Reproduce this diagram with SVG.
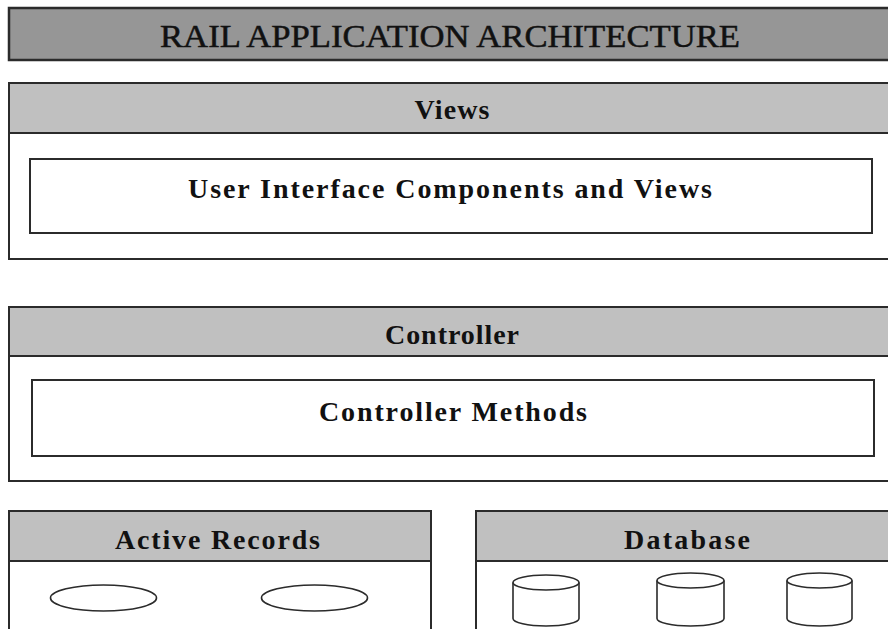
<svg xmlns="http://www.w3.org/2000/svg" width="888" height="629" viewBox="0 0 888 629">
<style>
.box{fill:#ffffff;stroke:#2b2b2b;stroke-width:2}
.hdr{fill:#c0c0c0;stroke:#2b2b2b;stroke-width:2}
.ttl{fill:#969696;stroke:#2b2b2b;stroke-width:2.5}
.shape{fill:#ffffff;stroke:#2b2b2b;stroke-width:1.6}
text{font-family:"Liberation Serif","Times New Roman",serif;fill:#111;text-anchor:middle}
.b{font-size:28px;font-weight:bold}
.t{font-size:32px;stroke:#111;stroke-width:0.5}
</style>
<rect width="888" height="629" fill="#ffffff"/>
<g id="title">
<rect class="ttl" x="9" y="8" width="895" height="52"/>
<text class="t" x="450" y="47" textLength="580" lengthAdjust="spacingAndGlyphs">RAIL APPLICATION ARCHITECTURE</text>
</g>
<g id="views">
<rect class="box" x="9" y="83" width="895" height="176"/>
<rect class="hdr" x="9" y="83" width="895" height="50"/>
<text class="b" x="452" y="119" textLength="75" lengthAdjust="spacing">Views</text>
</g>
<g id="ui-components">
<rect class="box" x="30" y="159" width="842" height="74"/>
<text class="b" x="450" y="198" textLength="524" lengthAdjust="spacing">User Interface Components and Views</text>
</g>
<g id="controller">
<rect class="box" x="9" y="307" width="895" height="174"/>
<rect class="hdr" x="9" y="307" width="895" height="49"/>
<text class="b" x="452" y="344" textLength="134" lengthAdjust="spacing">Controller</text>
</g>
<g id="controller-methods">
<rect class="box" x="32" y="380" width="842" height="76"/>
<text class="b" x="453" y="421" textLength="268" lengthAdjust="spacing">Controller Methods</text>
</g>
<g id="active-records">
<rect class="box" x="9" y="511" width="422" height="140"/>
<rect class="hdr" x="9" y="511" width="422" height="50"/>
<text class="b" x="217.5" y="549" textLength="205" lengthAdjust="spacing">Active Records</text>
<ellipse class="shape" cx="103.5" cy="598" rx="53" ry="13"/>
<ellipse class="shape" cx="314.5" cy="598" rx="53" ry="13"/>
</g>
<g id="database">
<rect class="box" x="476" y="511" width="430" height="140"/>
<rect class="hdr" x="476" y="511" width="430" height="50"/>
<text class="b" x="687" y="549" textLength="126" lengthAdjust="spacing">Database</text>
<path class="shape" d="M513,582.5 L513,618.5 A33,7.5 0 0 0 579,618.5 L579,582.5"/>
<ellipse class="shape" cx="546" cy="582.5" rx="33" ry="7.5"/>
<path class="shape" d="M657,580.5 L657,618.5 A33.5,7.5 0 0 0 724,618.5 L724,580.5"/>
<ellipse class="shape" cx="690.5" cy="580.5" rx="33.5" ry="7.5"/>
<path class="shape" d="M787,580.5 L787,618.5 A32.5,7.5 0 0 0 852,618.5 L852,580.5"/>
<ellipse class="shape" cx="819.5" cy="580.5" rx="32.5" ry="7.5"/>
</g>
<g id="connectors"></g>
</svg>
